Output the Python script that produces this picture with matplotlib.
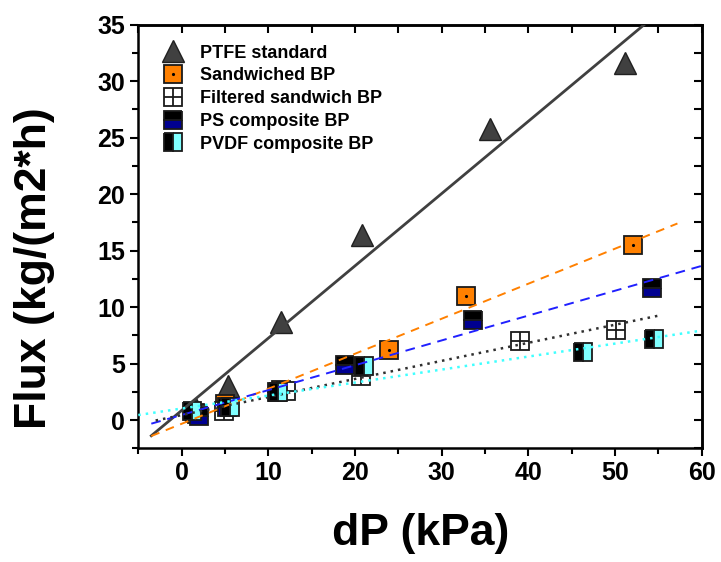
import matplotlib
matplotlib.use("Agg")
import matplotlib.pyplot as plt
import numpy as np

plt.rcParams['font.family'] = ['Liberation Sans', 'DejaVu Sans']

# ---- data ----
dp_ptfe = [1.6, 5.3, 11.5, 20.8, 35.6, 51.2]
flux_ptfe = [1.0, 3.0, 8.65, 16.4, 25.8, 31.6]

dp_sand = [1.5, 5.0, 11.5, 23.9, 32.8, 52.1]
flux_sand = [0.6, 1.4, 2.7, 6.2, 11.0, 15.5]

dp_filt = [1.8, 4.9, 12.0, 20.7, 39.0, 50.1]
flux_filt = [0.5, 0.8, 2.6, 3.9, 7.0, 8.0]

dp_ps = [2.0, 5.2, 11.0, 18.8, 33.6, 54.3]
flux_ps = [0.35, 1.2, 2.5, 4.9, 8.9, 11.7]

dp_pvdf = [1.25, 5.6, 11.1, 21.0, 46.3, 54.5]
flux_pvdf = [0.8, 1.2, 2.45, 4.75, 6.0, 7.2]

labels = ["PTFE standard", "Sandwiched BP", "Filtered sandwich BP",
          "PS composite BP", "PVDF composite BP"]

# linear fit lines: slope, intercept, x start, x end
fit_ptfe = (0.64, 0.85, -3.5, 60)
fit_sand = (0.31, -0.33, -3.5, 57.2)
fit_ps = (0.22, 0.45, -3.5, 60)
fit_filt = (0.16, 0.44, -3.0, 55)
fit_pvdf = (0.115, 1.02, -5.0, 60)

xticks = [0, 10, 20, 30, 40, 50, 60]
yticks = [0, 5, 10, 15, 20, 25, 30, 35]

# ---- figure ----
W, H = 721, 562
fig = plt.figure(figsize=(W / 100, H / 100), dpi=100)
L, R, B, T = 138.3, 701.7, 448.3, 24.7
ax = fig.add_axes([L / W, 1 - B / H, (R - L) / W, (B - T) / H])
ax.set_xlim(-5, 60)
ax.set_ylim(-2, 35)

ms = 12.5
ec = '#1a1a1a'
mew = 1.3

# markers
h_ptfe, = ax.plot(dp_ptfe, flux_ptfe, ls='none', marker='^', ms=16,
                  mfc='#404040', mec='#202020', mew=1.0, zorder=3)
h_sand, = ax.plot(dp_sand, flux_sand, ls='none', marker='s', ms=ms,
                  mfc='#FF8000', mec=ec, mew=mew, zorder=3)
h_sand_dot, = ax.plot(dp_sand, flux_sand, ls='none', marker='.', ms=2.5,
                      color='black', zorder=3.1)
h_filt, = ax.plot(dp_filt, flux_filt, ls='none', marker='s', ms=ms,
                  mfc='white', mec=ec, mew=mew, zorder=3.2)
h_filt_plus, = ax.plot(dp_filt, flux_filt, ls='none', marker='+', ms=ms,
                       color=ec, mew=1.3, zorder=3.3)
h_ps, = ax.plot(dp_ps, flux_ps, ls='none', marker='s', ms=ms,
                fillstyle='top', mfc='black', mfcalt='#000090',
                mec=ec, mew=mew, zorder=3.4)
h_pvdf, = ax.plot(dp_pvdf, flux_pvdf, ls='none', marker='s', ms=ms,
                  fillstyle='left', mfc='black', mfcalt='#80FFFF',
                  mec=ec, mew=mew, zorder=3.5)


def fitline(fit, **kw):
    s, b, x0, x1 = fit
    xs = np.array([x0, x1])
    ax.plot(xs, s * xs + b, zorder=4, **kw)


fitline(fit_ptfe, color='#404040', lw=2.0, ls='-')
fitline(fit_sand, color='#FF8000', lw=1.4, ls=(0, (4.5, 3.5)))
fitline(fit_ps, color='#2020FF', lw=1.4, ls=(0, (5, 3.5)))
fitline(fit_filt, color='#303030', lw=1.8, ls=(0, (1, 2)))
fitline(fit_pvdf, color='#40FFFF', lw=1.8, ls=(0, (1, 2)))

# axes styling
for sp in ax.spines.values():
    sp.set_linewidth(1.8)
ax.set_xticks(xticks)
ax.set_xticks(np.arange(-5, 61, 5), minor=True)
ax.set_yticks(yticks)
ax.set_yticks(np.arange(-2.5, 35.1, 2.5), minor=True)
ax.tick_params(which='major', direction='out', length=6, width=1.5,
               labelsize=18)
ax.tick_params(which='minor', direction='out', length=4, width=1.5)
for lab in ax.get_xticklabels() + ax.get_yticklabels():
    lab.set_fontweight('bold')

secx = ax.secondary_xaxis('top')
secx.set_xticks(np.arange(-5, 61, 5))
secx.tick_params(direction='in', length=6, width=1.5, labeltop=False)
secx.spines['top'].set_linewidth(1.8)
secy = ax.secondary_yaxis('right')
secy.set_yticks(np.arange(-2.5, 35.1, 2.5))
secy.tick_params(direction='in', length=6, width=1.5, labelright=False)
secy.spines['right'].set_linewidth(1.8)

fig.text(421 / W, 1 - 533 / H, "dP (kPa)", ha='center', va='center',
         fontsize=32, fontweight='bold')
fig.text(35 / W, 1 - 268 / H, "Flux (kg/(m2*h)", ha='center', va='center',
         rotation=90, fontsize=32, fontweight='bold')

handles = [h_ptfe, (h_sand, h_sand_dot), (h_filt, h_filt_plus), h_ps, h_pvdf]
leg = ax.legend(handles, labels, loc='upper left',
                bbox_to_anchor=(0.045, 0.953), frameon=False,
                prop={'size': 13, 'weight': 'bold'},
                handlelength=1.0, handletextpad=1.0, labelspacing=0.32,
                borderpad=0, borderaxespad=0)

fig.savefig("out.png", dpi=100)
